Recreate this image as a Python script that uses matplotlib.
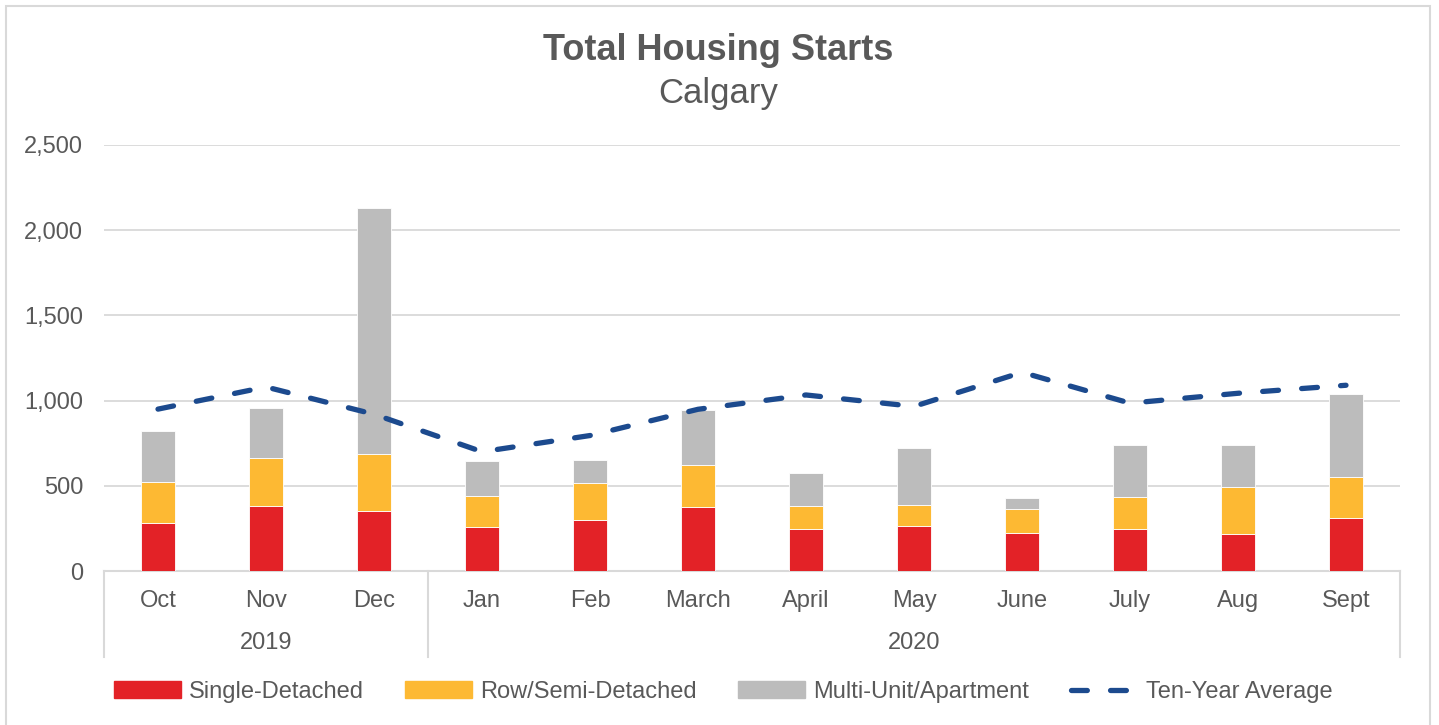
import matplotlib
matplotlib.use("Agg")
import matplotlib.pyplot as plt
import numpy as np
from matplotlib.patches import Rectangle
from matplotlib.lines import Line2D
from matplotlib.transforms import blended_transform_factory

plt.rcParams["font.family"] = ["Liberation Sans", "DejaVu Sans"]

# data
months = ["Oct", "Nov", "Dec", "Jan", "Feb", "March", "April", "May",
          "June", "July", "Aug", "Sept"]
years = ["2019", "2020"]
year_spans = [(0, 2), (3, 11)]
single_detached = [283, 381, 354, 260, 299, 377, 245, 265, 221, 245, 215, 313]
row_semi = [237, 280, 334, 180, 216, 243, 135, 125, 141, 191, 276, 239]
multi_unit = [301, 295, 1442, 205, 136, 327, 197, 334, 66, 303, 248, 487]
ten_year_avg = [950, 1080, 920, 700, 795, 949, 1033, 966, 1166, 985, 1043, 1090]
yticks = [0, 500, 1000, 1500, 2000, 2500]

TXT = "#595959"
GRID = "#d9d9d9"
RED = "#e32227"
ORANGE = "#fdb933"
GRAY = "#bcbcbc"
BLUE = "#1c4a8e"

W, H = 1439, 725
fig = plt.figure(figsize=(W / 100, H / 100), dpi=100)
ax = fig.add_axes([104 / W, 1 - 571 / H, (1400 - 104) / W, (571 - 145) / H])

# outer chart border
fig.add_artist(Rectangle((6 / W, -0.01), (1430 - 6) / W, 1.01 - 6 / H,
                         transform=fig.transFigure, fill=False,
                         edgecolor=GRID, linewidth=1.5))

x = np.arange(len(months))
s = np.array(single_detached)
r = np.array(row_semi)
m = np.array(multi_unit)
bw = 0.315
ax.bar(x, s, bw, color=RED, edgecolor="white", linewidth=0.6, zorder=3)
ax.bar(x, r, bw, bottom=s, color=ORANGE, edgecolor="white", linewidth=0.6, zorder=3)
ax.bar(x, m, bw, bottom=s + r, color=GRAY, edgecolor="white", linewidth=0.6, zorder=3)
ax.plot(x, ten_year_avg, color=BLUE, linewidth=3.8, dashes=(3.0, 4.4),
        dash_capstyle="round", zorder=4)

ax.set_xlim(-0.5, len(months) - 0.5)
ax.set_ylim(0, 2500)
ax.set_yticks(yticks)
ax.set_yticklabels([f"{v:,}" for v in yticks])
ax.tick_params(axis="y", length=0, pad=15, labelsize=17, labelcolor=TXT)
ax.set_xticks([])
ax.grid(axis="y", color=GRID, linewidth=1.3, zorder=0)
for sp in ["top", "right", "left"]:
    ax.spines[sp].set_visible(False)
ax.spines["bottom"].set_color(GRID)
ax.spines["bottom"].set_linewidth(1.5)

# two-level category axis
tr = blended_transform_factory(ax.transData, ax.transAxes)
for i, lab in enumerate(months):
    ax.text(i, -30 / 426, lab, transform=tr, ha="center", va="center",
            fontsize=17, color=TXT)
for (a, b), yr in zip(year_spans, years):
    ax.text((a + b) / 2, -72 / 426, yr, transform=tr, ha="center", va="center",
            fontsize=17, color=TXT)
for xs in [-0.5, 2.5, len(months) - 0.5]:
    ax.plot([xs, xs], [0, -86 / 426], transform=tr, color=GRID, linewidth=1.5,
            clip_on=False)

fig.text(718 / W, 1 - 50 / H, "Total Housing Starts", ha="center", va="center",
         fontsize=26, fontweight="bold", color=TXT)
fig.text(718 / W, 1 - 94 / H, "Calgary", ha="center", va="center",
         fontsize=25, color=TXT)

handles = [Rectangle((0, 0), 1, 1, color=RED),
           Rectangle((0, 0), 1, 1, color=ORANGE),
           Rectangle((0, 0), 1, 1, color=GRAY),
           Line2D([], [], color=BLUE, linewidth=3.8, dashes=(3.0, 4.4),
                  dash_capstyle="round")]
labels = ["Single-Detached", "Row/Semi-Detached", "Multi-Unit/Apartment",
          "Ten-Year Average"]
leg = fig.legend(handles, labels, loc="center", bbox_to_anchor=(723 / W, 33 / H),
                 ncol=4, frameon=False, fontsize=17, handlelength=2.84,
                 handletextpad=0.34, columnspacing=1.75, labelcolor=TXT)

fig.savefig("out.png", dpi=100)
